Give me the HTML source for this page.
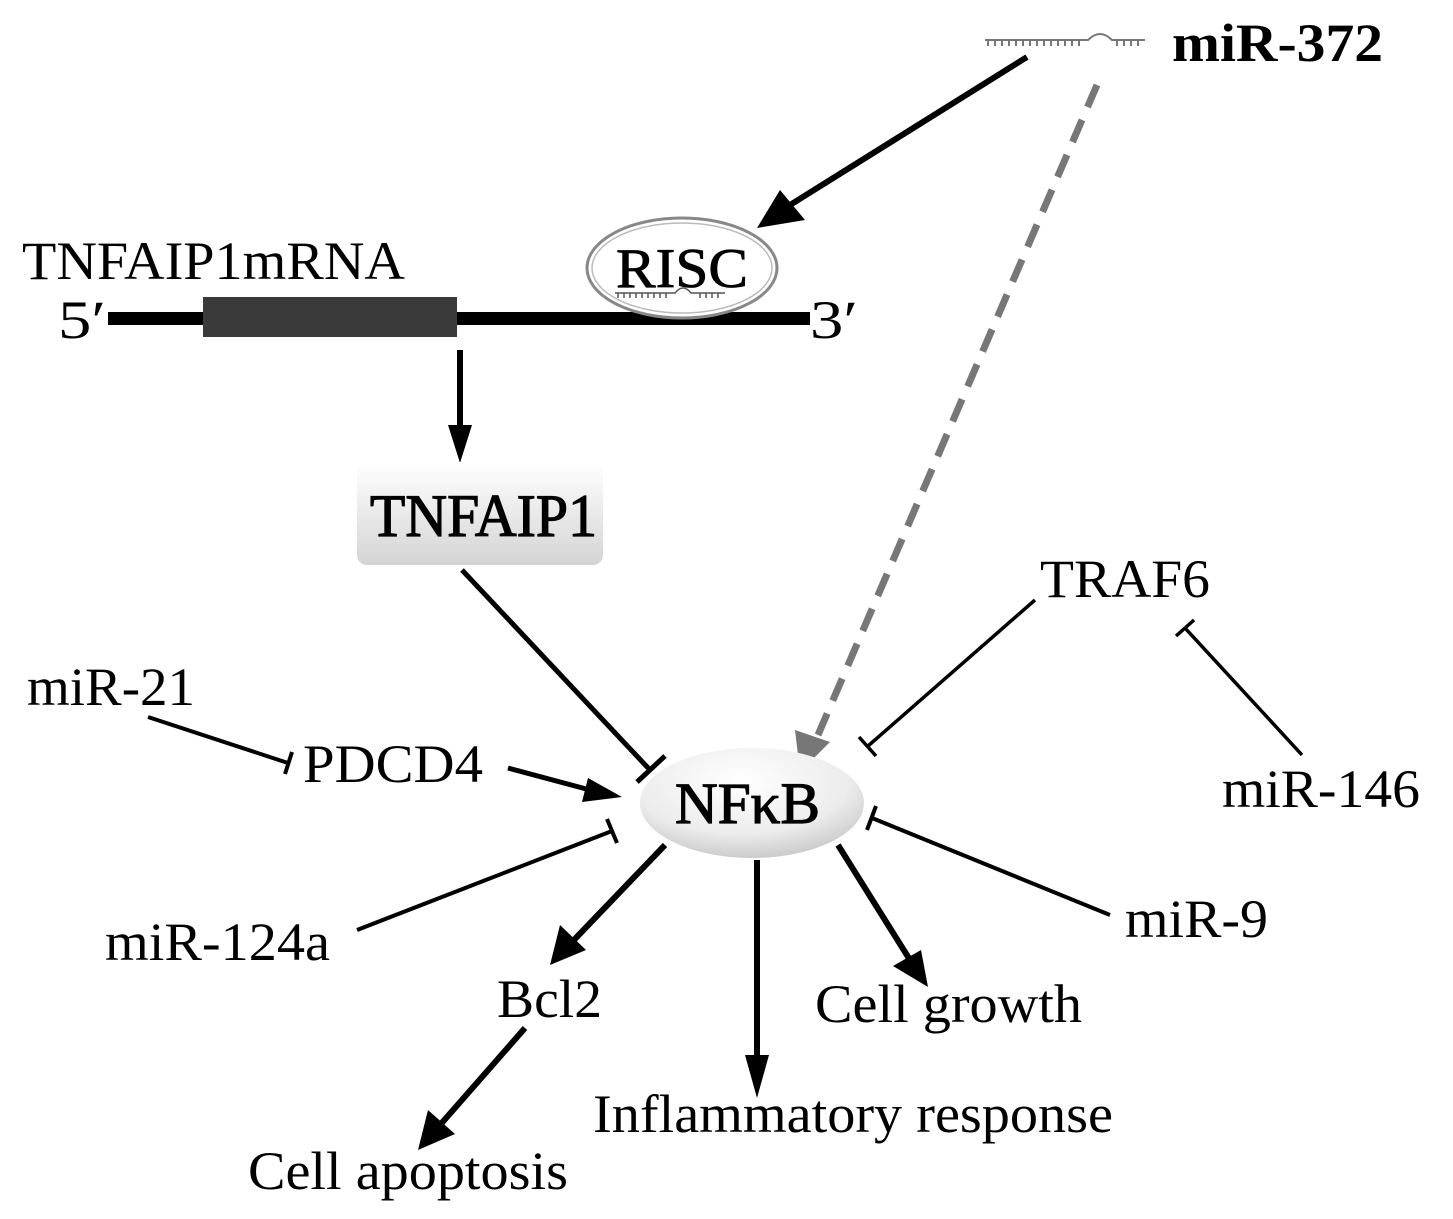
<!DOCTYPE html>
<html><head><meta charset="utf-8"><style>
html,body{margin:0;padding:0;background:#fff;}
svg{display:block;}
text{font-family:"Liberation Serif",serif;fill:#000;}
</style></head><body>
<svg width="1453" height="1219" viewBox="0 0 1453 1219" xmlns="http://www.w3.org/2000/svg">
<defs>
<linearGradient id="boxg" x1="0" y1="0" x2="0" y2="1">
<stop offset="0" stop-color="#ffffff"/><stop offset="1" stop-color="#d4d4d4"/></linearGradient>
<radialGradient id="ellg" cx="0.45" cy="0.3" r="0.8">
<stop offset="0" stop-color="#ffffff"/><stop offset="0.6" stop-color="#ececec"/><stop offset="1" stop-color="#bdbdbd"/></radialGradient>
</defs>

<g stroke="#777" stroke-width="2" fill="none">
<path d="M985 40 H1088 Q1100 28 1112 40 H1145"/>
<path d="M988 40v6M995 40v6M1002 40v6M1009 40v6M1016 40v6M1023 40v6M1030 40v6M1037 40v6M1044 40v6M1051 40v6M1058 40v6M1065 40v6M1072 40v6M1079 40v6M1117 40v6M1124 40v6M1131 40v6M1138 40v6"/>
</g>
<text x="1172" y="61" font-size="54" font-weight="bold" textLength="211" lengthAdjust="spacingAndGlyphs">miR-372</text>

<line x1="1027" y1="57" x2="790" y2="205" stroke="#000" stroke-width="6"/>
<polygon points="757,228 780,190 805,220" fill="#000"/>

<line x1="1097" y1="85" x2="818" y2="735" stroke="#777" stroke-width="7" stroke-dasharray="24,14"/>
<polygon points="800,772 795,730 830,742" fill="#777"/>

<text x="22" y="279" font-size="54" textLength="383" lengthAdjust="spacingAndGlyphs">TNFAIP1mRNA</text>
<text x="58" y="338" font-size="54" textLength="48" lengthAdjust="spacingAndGlyphs">5′</text>
<rect x="108" y="312" width="702" height="13" fill="#000"/>
<rect x="203" y="297" width="254" height="40" fill="#3a3a3a"/>
<text x="810" y="338" font-size="54" textLength="48" lengthAdjust="spacingAndGlyphs">3′</text>

<ellipse cx="682" cy="268" rx="95" ry="50" fill="#fff" stroke="#888" stroke-width="3"/>
<ellipse cx="682" cy="268" rx="90" ry="45" fill="none" stroke="#bbb" stroke-width="1.5"/>
<text x="682" y="287" font-size="56" text-anchor="middle" stroke="#000" stroke-width="0.8" textLength="132" lengthAdjust="spacingAndGlyphs">RISC</text>
<g stroke="#555" stroke-width="1.5" fill="none">
<path d="M615 293 H675 Q683 283 691 293 H725"/>
<path d="M618 293v5M624 293v5M630 293v5M636 293v5M642 293v5M648 293v5M654 293v5M660 293v5M666 293v5M700 293v5M706 293v5M712 293v5M718 293v5"/>
</g>

<line x1="460" y1="350" x2="460" y2="430" stroke="#000" stroke-width="6"/>
<polygon points="448,425 472,425 460,463" fill="#000"/>

<rect x="357" y="462" width="246" height="103" rx="10" fill="url(#boxg)"/>
<text x="370" y="536" font-size="60" stroke="#000" stroke-width="1.2" textLength="227" lengthAdjust="spacingAndGlyphs">TNFAIP1</text>

<line x1="462" y1="570" x2="650" y2="770" stroke="#000" stroke-width="5"/>
<line x1="637" y1="782" x2="665" y2="756" stroke="#000" stroke-width="5"/>

<ellipse cx="752" cy="803" rx="112" ry="55" fill="url(#ellg)"/>
<text x="675" y="823" font-size="58" stroke="#000" stroke-width="1.2" textLength="145" lengthAdjust="spacingAndGlyphs">NFκB</text>

<text x="1040" y="597" font-size="54" textLength="170" lengthAdjust="spacingAndGlyphs">TRAF6</text>
<line x1="1035" y1="600" x2="868" y2="746" stroke="#000" stroke-width="3.5"/>
<line x1="859" y1="737" x2="876" y2="756" stroke="#000" stroke-width="3.5"/>

<text x="1222" y="807" font-size="54" textLength="198" lengthAdjust="spacingAndGlyphs">miR-146</text>
<line x1="1302" y1="755" x2="1185" y2="628" stroke="#000" stroke-width="3.5"/>
<line x1="1176" y1="636" x2="1194" y2="620" stroke="#000" stroke-width="3.5"/>

<text x="27" y="705" font-size="54" textLength="168" lengthAdjust="spacingAndGlyphs">miR-21</text>
<line x1="148" y1="717" x2="288" y2="763" stroke="#000" stroke-width="4"/>
<line x1="292" y1="752" x2="285" y2="774" stroke="#000" stroke-width="4"/>

<text x="303" y="782" font-size="54" textLength="180" lengthAdjust="spacingAndGlyphs">PDCD4</text>
<line x1="508" y1="768" x2="590" y2="790" stroke="#000" stroke-width="5"/>
<polygon points="622,797 582,802 588,778" fill="#000"/>

<text x="105" y="960" font-size="54" textLength="225" lengthAdjust="spacingAndGlyphs">miR-124a</text>
<line x1="357" y1="930" x2="612" y2="831" stroke="#000" stroke-width="4"/>
<line x1="607" y1="819" x2="617" y2="843" stroke="#000" stroke-width="4"/>

<text x="1125" y="937" font-size="54" textLength="143" lengthAdjust="spacingAndGlyphs">miR-9</text>
<line x1="1110" y1="915" x2="872" y2="818" stroke="#000" stroke-width="4"/>
<line x1="876" y1="806" x2="867" y2="830" stroke="#000" stroke-width="4"/>

<line x1="665" y1="845" x2="572" y2="942" stroke="#000" stroke-width="6"/>
<polygon points="550,965 560,925 586,950" fill="#000"/>
<text x="497" y="1017" font-size="54" textLength="105" lengthAdjust="spacingAndGlyphs">Bcl2</text>

<line x1="525" y1="1028" x2="440" y2="1125" stroke="#000" stroke-width="6"/>
<polygon points="418,1150 428,1110 455,1134" fill="#000"/>
<text x="248" y="1189" font-size="54" textLength="320" lengthAdjust="spacingAndGlyphs">Cell apoptosis</text>

<line x1="757" y1="860" x2="757" y2="1060" stroke="#000" stroke-width="6"/>
<polygon points="745,1055 769,1055 757,1098" fill="#000"/>
<text x="593" y="1132" font-size="54" textLength="520" lengthAdjust="spacingAndGlyphs">Inflammatory response</text>

<line x1="838" y1="845" x2="910" y2="960" stroke="#000" stroke-width="6"/>
<polygon points="928,987 893,966 921,950" fill="#000"/>
<text x="815" y="1022" font-size="54" textLength="267" lengthAdjust="spacingAndGlyphs">Cell growth</text>
</svg>
</body></html>
